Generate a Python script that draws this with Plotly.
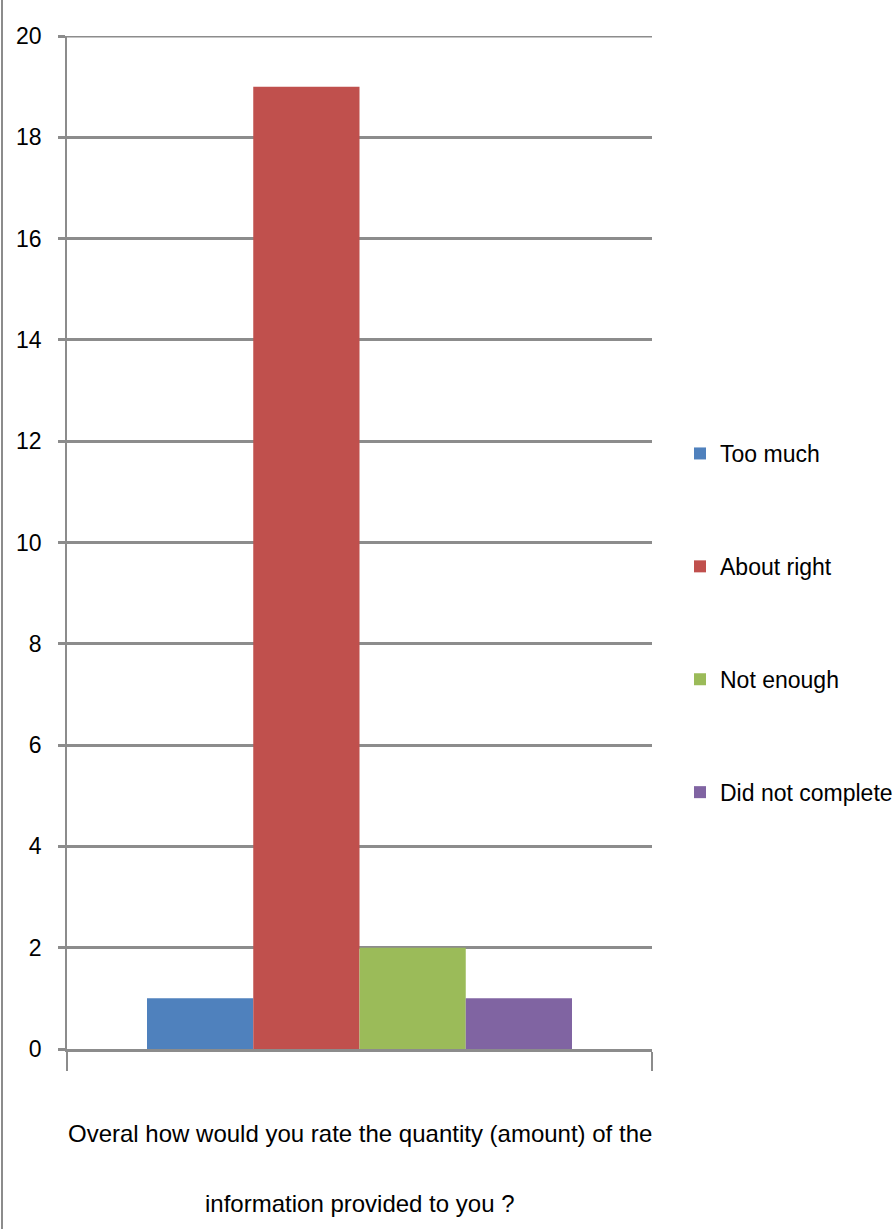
import plotly.graph_objects as go

# Survey question (single category) and answer counts
question = "Overal how would you rate the quantity (amount) of the information provided to you ?"
question_lines = ["Overal how would you rate the quantity (amount) of the",
                  "information provided to you ?"]
answers = ["Too much", "About right", "Not enough", "Did not complete"]
counts = [1, 19, 2, 1]
colors = ["#4F81BD", "#C0504D", "#9BBB59", "#8064A2"]
y_ticks = [0, 2, 4, 6, 8, 10, 12, 14, 16, 18, 20]

FONT = "Liberation Sans, Arial, sans-serif"
FS = 23
AXIS_GRAY = "#8c8c8c"

W, H = 895, 1229
ML, MR, MT, MB = 67, 243, 36, 180
plot_w = W - ML - MR
plot_h = H - MT - MB

fig = go.Figure()
for name, val, col in zip(answers, counts, colors):
    fig.add_trace(go.Bar(
        x=[question], y=[val], name=name,
        marker=dict(color=col, line=dict(width=0)),
        legendgroup=name,
    ))

def py(px):
    """Convert a pixel row to paper y."""
    return (H - MB - px) / plot_h

def px_x(px):
    """Convert a pixel column to paper x."""
    return (px - ML) / plot_w

annotations = [
    dict(text=question_lines[0], x=0.5, y=py(1133), xref="paper", yref="paper",
         xanchor="center", yanchor="middle", showarrow=False,
         font=dict(family=FONT, size=24, color="#000")),
    dict(text=question_lines[1], x=0.5, y=py(1203), xref="paper", yref="paper",
         xanchor="center", yanchor="middle", showarrow=False,
         font=dict(family=FONT, size=24, color="#000")),
]

shapes = [
    # frame edge on the left of the chart area
    dict(type="line", xref="paper", yref="paper",
         x0=px_x(2), x1=px_x(2), y0=py(0), y1=py(H),
         line=dict(color=AXIS_GRAY, width=2)),
    # top gridline (at the upper range limit) with its tick stub
    dict(type="line", xref="paper", yref="y",
         x0=px_x(60), x1=1, y0=y_ticks[-1], y1=y_ticks[-1],
         line=dict(color=AXIS_GRAY, width=3)),
]

fig.update_layout(
    width=W, height=H,
    margin=dict(l=ML, r=MR, t=MT, b=MB, autoexpand=False),
    paper_bgcolor="white", plot_bgcolor="white",
    barmode="group", bargap=0.2735, bargroupgap=0,
    font=dict(family=FONT, size=FS, color="#000"),
    showlegend=True,
    legend=dict(
        x=px_x(680), xanchor="left", y=py(623), yanchor="middle",
        font=dict(family=FONT, size=FS, color="#000"),
        tracegroupgap=80, bgcolor="rgba(0,0,0,0)",
    ),
    annotations=annotations,
    shapes=shapes,
    xaxis=dict(
        type="category", range=[-0.5, 0.5], showticklabels=False,
        showgrid=False, showline=True, linecolor=AXIS_GRAY, linewidth=3,
        ticks="outside", tickson="boundaries", ticklen=19,
        tickcolor=AXIS_GRAY, tickwidth=2,
    ),
    yaxis=dict(
        range=[0, 20], tickvals=y_ticks, showgrid=True, gridcolor=AXIS_GRAY,
        gridwidth=3, zeroline=False, showline=True, linecolor=AXIS_GRAY,
        linewidth=1.5, ticks="outside", ticklen=7, tickcolor=AXIS_GRAY,
        tickwidth=3, ticklabelstandoff=12,
        tickfont=dict(family=FONT, size=FS, color="#000"),
    ),
)

fig.write_html("out.html")
